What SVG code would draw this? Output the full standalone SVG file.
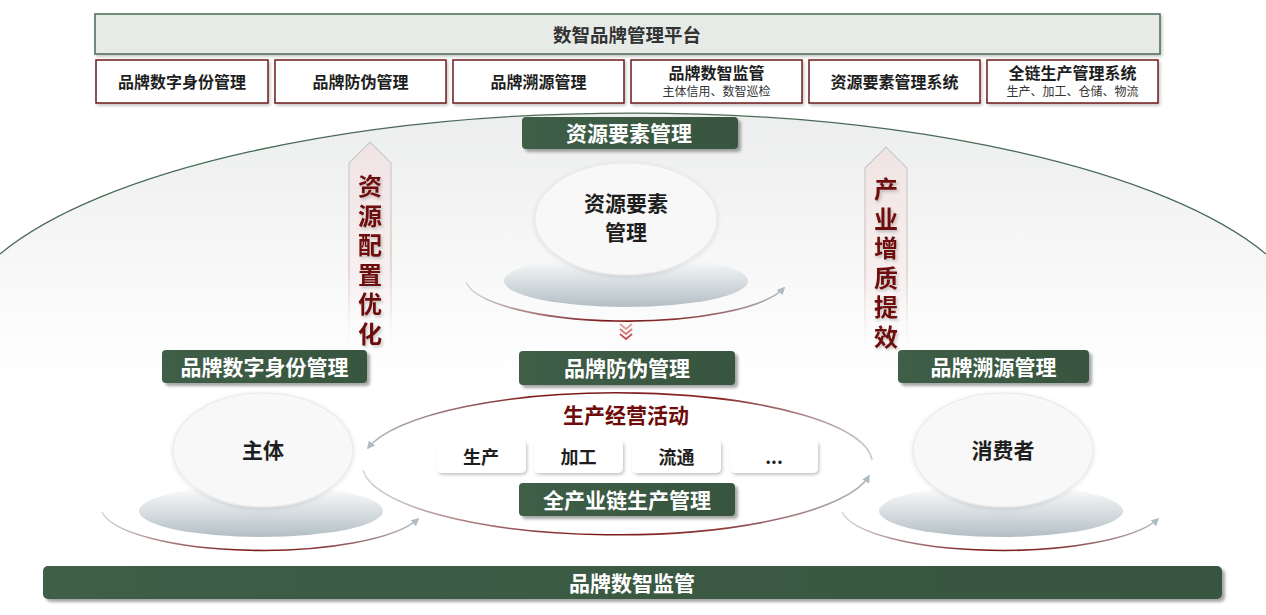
<svg xmlns="http://www.w3.org/2000/svg" width="1266" height="615" viewBox="0 0 1266 615">
<defs>
<style>
.cjk{font-family:"Noto Sans CJK SC","Noto Sans",sans-serif;}
.b{font-weight:bold;}
.plat{fill:#e7ebe7;stroke:#4a6a55;stroke-width:1.5;}
.sub{fill:#ffffff;stroke:#6d1a1a;stroke-width:1.5;}
.subt{font-size:16px;fill:#1e1e1e;font-weight:bold;}
.subs{font-size:12px;fill:#333;font-weight:normal;}
.green{fill:url(#gGreen);}
.gt{font-size:21px;fill:#ffffff;font-weight:bold;}
.vt{font-size:24px;fill:#6e0b0b;font-weight:bold;writing-mode:vertical-rl;letter-spacing:5.5px;}
.circ{fill:#f8f8f8;stroke:#e9e9e9;stroke-width:1.2;}
.ct{font-size:21px;fill:#1e1e1e;font-weight:bold;}
.wb{fill:#ffffff;}
.wbt{font-size:18px;fill:#1e1e1e;font-weight:bold;}
.disc{fill:url(#gDisc);}
</style>
<linearGradient id="gGreen" x1="0" y1="0" x2="1" y2="0">
<stop offset="0" stop-color="#3f5e47"/>
<stop offset="1" stop-color="#37553f"/>
</linearGradient>
<linearGradient id="gDome" x1="0" y1="112" x2="0" y2="380" gradientUnits="userSpaceOnUse">
<stop offset="0" stop-color="#eceeed"/>
<stop offset="1" stop-color="#ffffff"/>
</linearGradient>
<linearGradient id="gDisc" x1="0" y1="0" x2="0" y2="1">
<stop offset="0" stop-color="#ffffff"/>
<stop offset="1" stop-color="#b3bfc5"/>
</linearGradient>
<linearGradient id="gRing" x1="0" y1="0" x2="1" y2="0">
<stop offset="0" stop-color="#d4dadd"/>
<stop offset="0.45" stop-color="#7a1414"/>
<stop offset="0.7" stop-color="#8a3a3a"/>
<stop offset="1" stop-color="#b4c0c6"/>
</linearGradient>
<linearGradient id="gUp" x1="0" y1="0" x2="1" y2="0">
<stop offset="0" stop-color="#b4c0c6"/>
<stop offset="0.35" stop-color="#7a1414"/>
<stop offset="0.7" stop-color="#8a2a2a"/>
<stop offset="1" stop-color="#c8d0d4"/>
</linearGradient>
<linearGradient id="gArrFill" x1="0" y1="0" x2="0" y2="1">
<stop offset="0" stop-color="#f1e3e3"/>
<stop offset="0.7" stop-color="#f8f1f1"/>
<stop offset="1" stop-color="#ffffff" stop-opacity="0"/>
</linearGradient>
<linearGradient id="gArrStroke" x1="0" y1="0" x2="0" y2="1">
<stop offset="0" stop-color="#c3ccd1"/>
<stop offset="0.6" stop-color="#d9c4c4"/>
<stop offset="1" stop-color="#e8d8d8" stop-opacity="0"/>
</linearGradient>
<filter id="sh" x="-10%" y="-30%" width="125%" height="170%">
<feDropShadow dx="3" dy="3" stdDeviation="1.5" flood-color="#000" flood-opacity="0.35"/>
</filter>
<filter id="shs" x="-10%" y="-20%" width="125%" height="150%">
<feDropShadow dx="1.5" dy="2" stdDeviation="1.5" flood-color="#000" flood-opacity="0.22"/>
</filter>
<filter id="shc" x="-10%" y="-10%" width="120%" height="125%">
<feDropShadow dx="0" dy="1" stdDeviation="2" flood-color="#000" flood-opacity="0.12"/>
</filter>
<marker id="ah" viewBox="0 0 10 10" refX="8" refY="5" markerWidth="8" markerHeight="8" orient="auto" markerUnits="userSpaceOnUse">
<path d="M0,0 L10,5 L0,10 Z" fill="#aebbc2"/>
</marker>
</defs>

<rect width="1266" height="615" fill="#ffffff"/>

<!-- dome background -->
<g id="dome">
<path d="M0,254 A680,222 0 0 1 1266,254 L1266,615 L0,615 Z" fill="url(#gDome)"/>
<path d="M0,254 A680,222 0 0 1 1266,254" fill="none" stroke="#4a6a55" stroke-width="1.3"/>
</g>

<!-- platform -->
<g id="platform">
<rect x="95" y="14" width="1065" height="40" class="plat" filter="url(#shs)"/>
<text x="627" y="34" class="cjk b" font-size="18.5" fill="#333" text-anchor="middle" dominant-baseline="central">数智品牌管理平台</text>
</g>

<g id="sys1"><rect x="96" y="60" width="172" height="43" class="sub" filter="url(#shs)"/><text x="182" y="80.5" class="cjk subt" text-anchor="middle" dominant-baseline="central">品牌数字身份管理</text></g>
<g id="sys2"><rect x="275" y="60" width="171" height="43" class="sub" filter="url(#shs)"/><text x="360.5" y="80.5" class="cjk subt" text-anchor="middle" dominant-baseline="central">品牌防伪管理</text></g>
<g id="sys3"><rect x="453" y="60" width="171" height="43" class="sub" filter="url(#shs)"/><text x="538.5" y="80.5" class="cjk subt" text-anchor="middle" dominant-baseline="central">品牌溯源管理</text></g>
<g id="sys4"><rect x="631" y="60" width="171" height="43" class="sub" filter="url(#shs)"/><text class="cjk subt" text-anchor="middle"><tspan x="716.5" y="79">品牌数智监管</tspan><tspan x="716.5" y="96" class="subs">主体信用、数智巡检</tspan></text></g>
<g id="sys5"><rect x="809" y="60" width="171" height="43" class="sub" filter="url(#shs)"/><text x="894.5" y="80.5" class="cjk subt" text-anchor="middle" dominant-baseline="central">资源要素管理系统</text></g>
<g id="sys6"><rect x="987" y="60" width="171" height="43" class="sub" filter="url(#shs)"/><text class="cjk subt" text-anchor="middle"><tspan x="1072.5" y="79">全链生产管理系统</tspan><tspan x="1072.5" y="96" class="subs">生产、加工、仓储、物流</tspan></text></g>

<!-- vertical arrows -->
<g id="arrowLeft">
<path d="M370,142 L391,163 L391,348 L349,348 L349,163 Z" fill="url(#gArrFill)"/>
<path d="M349,348 L349,163 L370,142 L391,163 L391,348" fill="none" stroke="url(#gArrStroke)" stroke-width="1.2"/>
<text x="370" y="174" class="cjk vt" filter="url(#shs)">资源配置优化</text>
</g>
<g id="arrowRight">
<path d="M886,147 L907,168 L907,350 L865,350 L865,168 Z" fill="url(#gArrFill)"/>
<path d="M865,350 L865,168 L886,147 L907,168 L907,350" fill="none" stroke="url(#gArrStroke)" stroke-width="1.2"/>
<text x="886" y="177" class="cjk vt" filter="url(#shs)">产业增质提效</text>
</g>

<!-- resource node -->
<g id="resource">
<ellipse cx="626" cy="281" rx="122" ry="26" class="disc"/>
<ellipse cx="626" cy="219" rx="91" ry="56" class="circ" filter="url(#shc)"/>
<text class="cjk ct" font-size="20" text-anchor="middle"><tspan x="626" y="211">资源要素</tspan><tspan x="626" y="240">管理</tspan></text>
</g>

<!-- subject node -->
<g id="subject">
<ellipse cx="261" cy="511" rx="122" ry="26" class="disc"/>
<ellipse cx="263" cy="450" rx="90" ry="57" class="circ" filter="url(#shc)"/>
<text x="263" y="449" class="cjk ct" text-anchor="middle" dominant-baseline="central">主体</text>
</g>

<!-- consumer node -->
<g id="consumer">
<ellipse cx="1001" cy="511" rx="122" ry="26" class="disc"/>
<ellipse cx="1003" cy="450" rx="90" ry="57" class="circ" filter="url(#shc)"/>
<text x="1003" y="449" class="cjk ct" text-anchor="middle" dominant-baseline="central">消费者</text>
</g>

<!-- connectors -->
<g id="connectors" fill="none" stroke-width="1.6">
<path d="M466,282 A162,44 0 0 0 784,288" stroke="url(#gRing)" marker-end="url(#ah)"/>
<path d="M102,512 A162,44 0 0 0 418,519" stroke="url(#gRing)" marker-end="url(#ah)"/>
<path d="M842,512 A162,44 0 0 0 1158,519" stroke="url(#gRing)" marker-end="url(#ah)"/>
<path d="M872,460 A255,70 0 0 0 368,448" stroke="url(#gUp)" marker-end="url(#ah)"/>
<path d="M363,470 A255,70 0 0 0 869,476" stroke="url(#gRing)" marker-end="url(#ah)"/>
<g stroke="#c9504d" stroke-width="1.8">
<polyline points="620,324 626,329 632,324" stroke-opacity="0.55"/>
<polyline points="620,329 626,334 632,329" stroke-opacity="0.75"/>
<polyline points="620,334 626,339 632,334"/>
</g>
</g>

<!-- production activities -->
<g id="activities">
<text x="626" y="414" class="cjk b" font-size="21" fill="#6e0b0b" text-anchor="middle" dominant-baseline="central">生产经营活动</text>
</g>
<g id="act1"><rect x="436" y="440" width="90" height="33" rx="5" class="wb" filter="url(#shs)"/><text x="481" y="456" class="cjk wbt" text-anchor="middle" dominant-baseline="central">生产</text></g>
<g id="act2"><rect x="534" y="440" width="89" height="33" rx="5" class="wb" filter="url(#shs)"/><text x="578.5" y="456" class="cjk wbt" text-anchor="middle" dominant-baseline="central">加工</text></g>
<g id="act3"><rect x="632" y="440" width="89" height="33" rx="5" class="wb" filter="url(#shs)"/><text x="676.5" y="456" class="cjk wbt" text-anchor="middle" dominant-baseline="central">流通</text></g>
<g id="act4"><rect x="730" y="440" width="88" height="33" rx="5" class="wb" filter="url(#shs)"/><text x="774" y="456" class="cjk wbt" text-anchor="middle" dominant-baseline="central">...</text></g>

<!-- green labels -->
<g id="lblResource"><rect x="522" y="117" width="216" height="32" rx="4" class="green" filter="url(#sh)"/><text x="629" y="132" class="cjk gt" text-anchor="middle" dominant-baseline="central">资源要素管理</text></g>
<g id="lblIdentity"><rect x="162" y="350" width="205" height="33" rx="4" class="green" filter="url(#sh)"/><text x="264.5" y="365.5" class="cjk gt" text-anchor="middle" dominant-baseline="central">品牌数字身份管理</text></g>
<g id="lblAnti"><rect x="519" y="351" width="216" height="34" rx="4" class="green" filter="url(#sh)"/><text x="627" y="367" class="cjk gt" text-anchor="middle" dominant-baseline="central">品牌防伪管理</text></g>
<g id="lblTrace"><rect x="898" y="350" width="191" height="33" rx="4" class="green" filter="url(#sh)"/><text x="993.5" y="365.5" class="cjk gt" text-anchor="middle" dominant-baseline="central">品牌溯源管理</text></g>
<g id="lblChain"><rect x="519" y="483" width="216" height="33" rx="4" class="green" filter="url(#sh)"/><text x="627" y="498.5" class="cjk gt" text-anchor="middle" dominant-baseline="central">全产业链生产管理</text></g>
<g id="lblSupervise"><rect x="43" y="566" width="1179" height="33" rx="5" class="green" filter="url(#sh)"/><text x="632" y="581.5" class="cjk gt" text-anchor="middle" dominant-baseline="central">品牌数智监管</text></g>
</svg>
